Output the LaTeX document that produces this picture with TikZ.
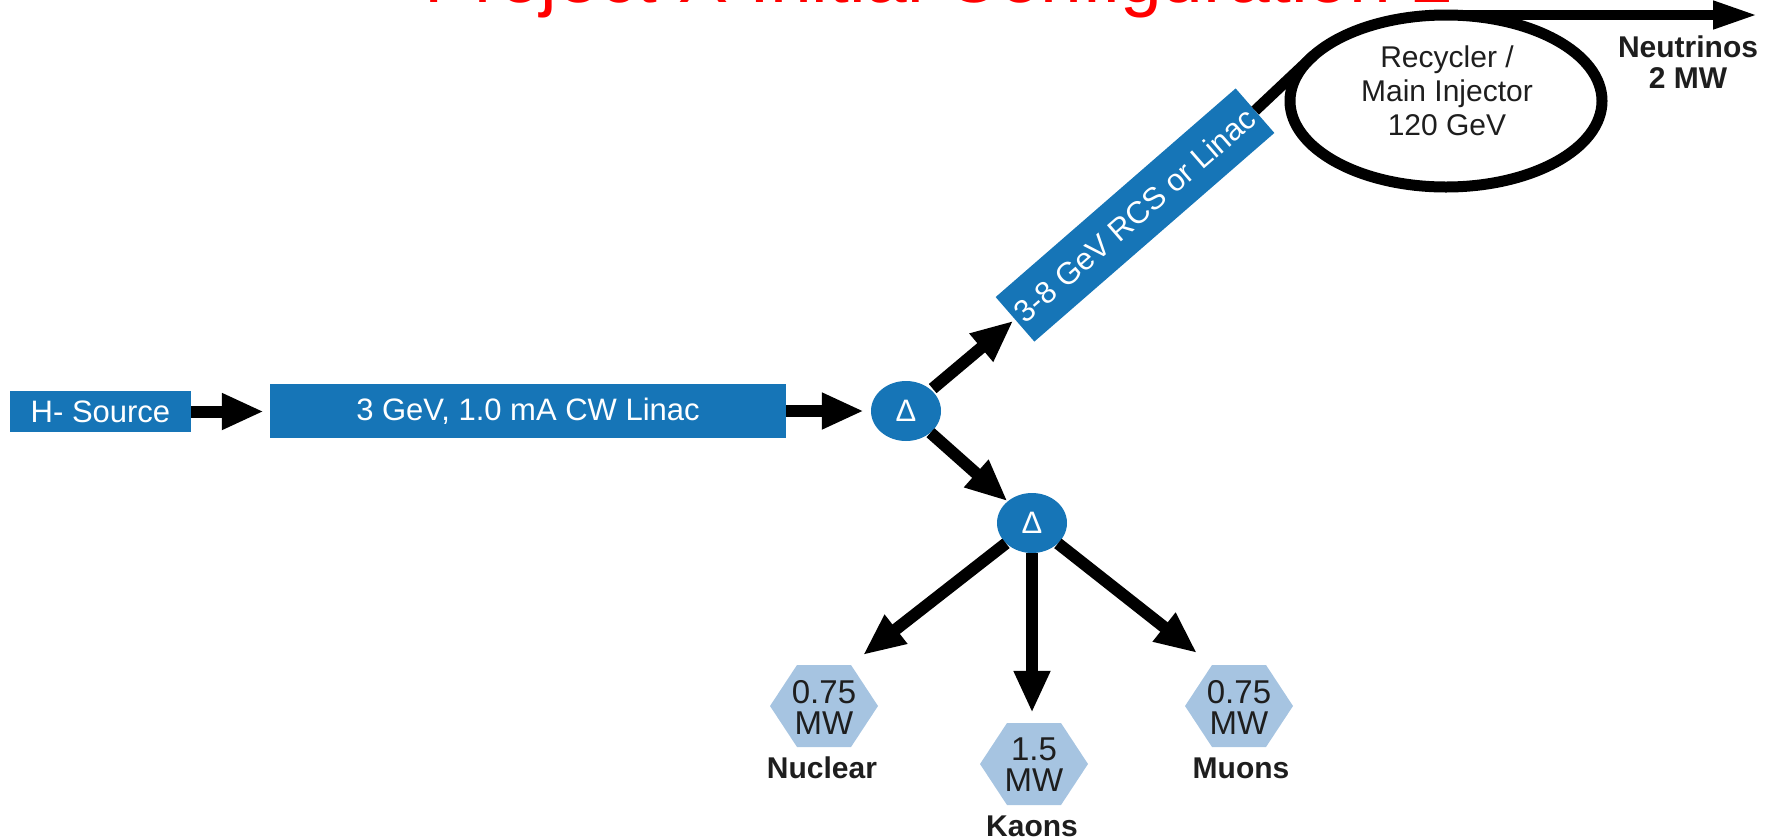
\documentclass[tikz,border=0pt]{standalone}
\usepackage{fontspec}
\setmainfont{Liberation Sans}
\usetikzlibrary{arrows.meta,shapes.geometric}
\definecolor{boxblue}{RGB}{22,117,183}
\definecolor{hexblue}{RGB}{166,196,225}
\definecolor{titlered}{RGB}{255,0,0}
\definecolor{darktext}{RGB}{30,30,30}
\newcommand{\hexfill}[2]{\fill[hexblue,shift={(#1,#2)}] (-54,0) -- (-27,-41) -- (27,-41) -- (54,0) -- (27,41) -- (-27,41) -- cycle;}
\begin{document}
\begin{tikzpicture}[x=1pt,y=-1pt,
  bluebox/.style={draw=none,fill=boxblue,text=white,font=\fontsize{31}{34}\selectfont,inner sep=0pt},
  deltanode/.style={ellipse,fill=boxblue,text=white,minimum width=70pt,minimum height=60pt,inner sep=0pt,font=\fontsize{31}{34}\selectfont},
  hexnode/.style={rectangle,minimum width=108pt,minimum height=82pt,inner sep=0pt,align=center,text=darktext,font=\fontsize{33}{31}\selectfont},
  lbl/.style={font=\bfseries\fontsize{30}{31}\selectfont,align=center,inner sep=0pt,text=darktext},
  plain/.style={font=\fontsize{30}{34}\selectfont,align=center,inner sep=0pt,text=darktext},
  arr/.style={line width=12pt,-{Triangle[length=42pt,width=34pt]}},
  toparr/.style={line width=10pt,-{Triangle[length=45pt,width=26pt]}},
]
\useasboundingbox (0,0) rectangle (1775,839);
\clip (0,0) rectangle (1775,839);

% title (mostly cut off at the top edge)
\node[anchor=base,text=titlered,font=\fontsize{75}{80}\selectfont,inner sep=0pt] (title) at (939,2) {Project X Initial Configuration 2};

% main chain
\node[bluebox,minimum width=181pt,minimum height=41pt] (hsrc) at (100.5,411.5) {H- Source};
\node[bluebox,minimum width=516pt,minimum height=54pt] (linac) at (528,411) {3 GeV, 1.0 mA CW Linac};
\node[deltanode] (d1) at (906,411) {Δ};
\node[deltanode] (d2) at (1032,523) {Δ};
\node[bluebox,rotate=41,minimum width=318pt,minimum height=59pt] (rcs) at (1135,215) {3-8 GeV RCS or Linac};

% ring
\node[ellipse,draw,line width=11pt,minimum width=312pt,minimum height=172pt,inner sep=0pt,outer sep=0pt] (ring) at (1446,101) {};
\node[plain] (ringtxt) at (1447,91) {Recycler /\\Main Injector\\120 GeV};
\coordinate (nuend) at (1758,15);
\node[lbl] (nulbl) at (1688,62) {Neutrinos\\2 MW};

% targets
\hexfill{824}{706}
\hexfill{1034}{764}
\hexfill{1239}{706}
\node[hexnode] (nuc) at (824,707) {0.75\\MW};
\node[hexnode] (kao) at (1034,765) {1.5\\MW};
\node[hexnode] (muo) at (1239,707) {0.75\\MW};
\node[lbl] (nuclbl) at (822,768) {Nuclear};
\node[lbl] (kaolbl) at (1032,826) {Kaons};
\node[lbl] (muolbl) at (1241,768) {Muons};
\coordinate (nuctip) at (863,655);
\coordinate (muotip) at (1197,653);

% connectors
\draw[arr,shorten >=6pt] (hsrc.east) -- (linac.west |- hsrc.east);
\draw[arr,shorten >=7pt] (linac.east |- d1) -- (d1.west);
\draw[arr,shorten <=2pt,shorten >=2pt] (d1) -- (rcs.west);
\draw[arr] (d1) -- (d2);
\draw[line width=11pt] (rcs.east) -- (ring.161);
\draw[toparr] (ring.north) -- (nuend);
\draw[arr] (d2) -- (nuctip);
\draw[arr,shorten >=11pt] (d2) -- (d2 |- kao.north);
\draw[arr] (d2) -- (muotip);
\end{tikzpicture}
\end{document}
